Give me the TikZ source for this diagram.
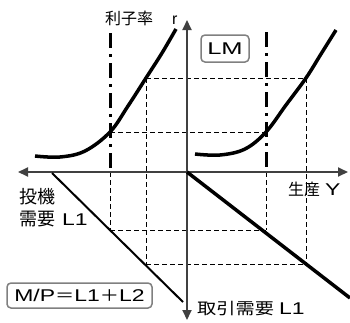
\documentclass[tikz,border=0pt]{standalone}
\usepackage{fontspec}
\setmainfont{Liberation Sans}
\newfontfamily\latS{Liberation Sans}[FakeStretch=1.35]
\newfontfamily\latW{Liberation Sans}[FakeStretch=1.5]
\newfontfamily\jp{Noto Sans CJK JP}
\newfontfamily\jpS{Noto Sans CJK JP}[FakeStretch=1.2]
\usetikzlibrary{arrows.meta}
\tikzset{
  axis/.style={draw=black!75, line width=1.8pt, {Triangle[length=10pt,width=9pt]}-{Triangle[length=10pt,width=9pt]}},
  guide/.style={draw=black, line width=0.9pt, dash pattern=on 5pt off 3pt},
  dashdot/.style={draw=black, line width=3pt, dash pattern=on 15pt off 6pt on 3pt off 6pt},
  curve/.style={draw=black, line width=3.5pt},
  thinline/.style={draw=black, line width=2pt},
  lbl/.style={inner sep=0pt, font=\fontsize{16}{20}\selectfont},
  boxlbl/.style={draw=black!50, line width=1.5pt, rounded corners=4pt, fill=white, inner sep=0pt, font=\fontsize{17}{18}\selectfont}
}
\begin{document}
\begin{tikzpicture}[x=1pt,y=-1pt]
\useasboundingbox (0,0) rectangle (350,322);
% key points
\coordinate (O) at (187,172);
\coordinate (axL) at (18,172);
\coordinate (axR) at (348,172);
\coordinate (axT) at (187,20);
\coordinate (axB) at (187,320);
\coordinate (a1) at (110,132);
\coordinate (a2) at (146,78);
\coordinate (b1) at (266,132);
\coordinate (b2) at (306,78);
\coordinate (a1x) at (110,172);
\coordinate (b1x) at (266,172);
\coordinate (a1d) at (110,230);
\coordinate (b1d) at (266,230);
\coordinate (a2d) at (146,264);
\coordinate (b2d) at (306,264);
\coordinate (dd1t) at (110,33);
\coordinate (dd2t) at (266,32);
\coordinate (s1) at (52,173);
\coordinate (s2) at (183,302);
\coordinate (t2) at (350,298);
% guides
\draw[guide] (a2) -- (b2);
\draw[guide] (a1) -- (b1);
\draw[guide] (a2) -- (a2d);
\draw[guide] (b2) -- (b2d);
\draw[guide] (a1x) -- (a1d);
\draw[guide] (b1x) -- (b1d);
\draw[guide] (a1d) -- (b1d);
\draw[guide] (a2d) -- (b2d);
% dash-dot verticals
\draw[dashdot] (dd1t) -- (a1x);
\draw[dashdot] (dd2t) -- (b1x);
% axes
\draw[axis] (axL) -- (axR);
\draw[axis] (axT) -- (axB);
% curves
\draw[curve] plot[smooth, tension=0.6] coordinates {(35,156) (60,157) (85,151) (110,132) (128,106) (146,78) (162,53) (176,29)};
\draw[curve] plot[smooth, tension=0.6] coordinates {(195,154) (220,155) (245,149) (266,132) (286,105) (306,78) (321,54) (336,30)};
% lines
\draw[thinline] (s1) -- (s2);
\draw[curve] (O) -- (t2);
% labels
\node[lbl, anchor=west] (rate) at (105,18) {{\jp\fontsize{16}{16}\selectfont 利子率}\hspace{19pt}{\fontsize{16}{16}\selectfont r}};
\node[boxlbl, minimum width=48pt, minimum height=27pt] (lm) at (225,48.5) {\latW LM};
\node[lbl, anchor=west] (prod) at (288,189) {{\jp\fontsize{16}{16}\selectfont 生産}\hspace{5pt}{\latS\fontsize{17}{17}\selectfont Y}};
\node[lbl, align=left, anchor=west] (spec) at (19,208) {{\jp\fontsize{18}{18}\selectfont 投機}\\[2pt]{\jp\fontsize{18}{18}\selectfont 需要}\hspace{7pt}{\latS\fontsize{17}{17}\selectfont L1}};
\node[boxlbl, minimum width=145pt, minimum height=25pt] (mp) at (79.5,295.5) {\latS M/P{\jpS\fontsize{16}{16}\selectfont ＝}L1{\jpS\fontsize{16}{16}\selectfont ＋}L2};
\node[lbl, anchor=west] (trans) at (197,309) {{\jpS 取引需要}\hspace{5pt}{\latS\fontsize{17}{17}\selectfont L1}};
\end{tikzpicture}
\end{document}
